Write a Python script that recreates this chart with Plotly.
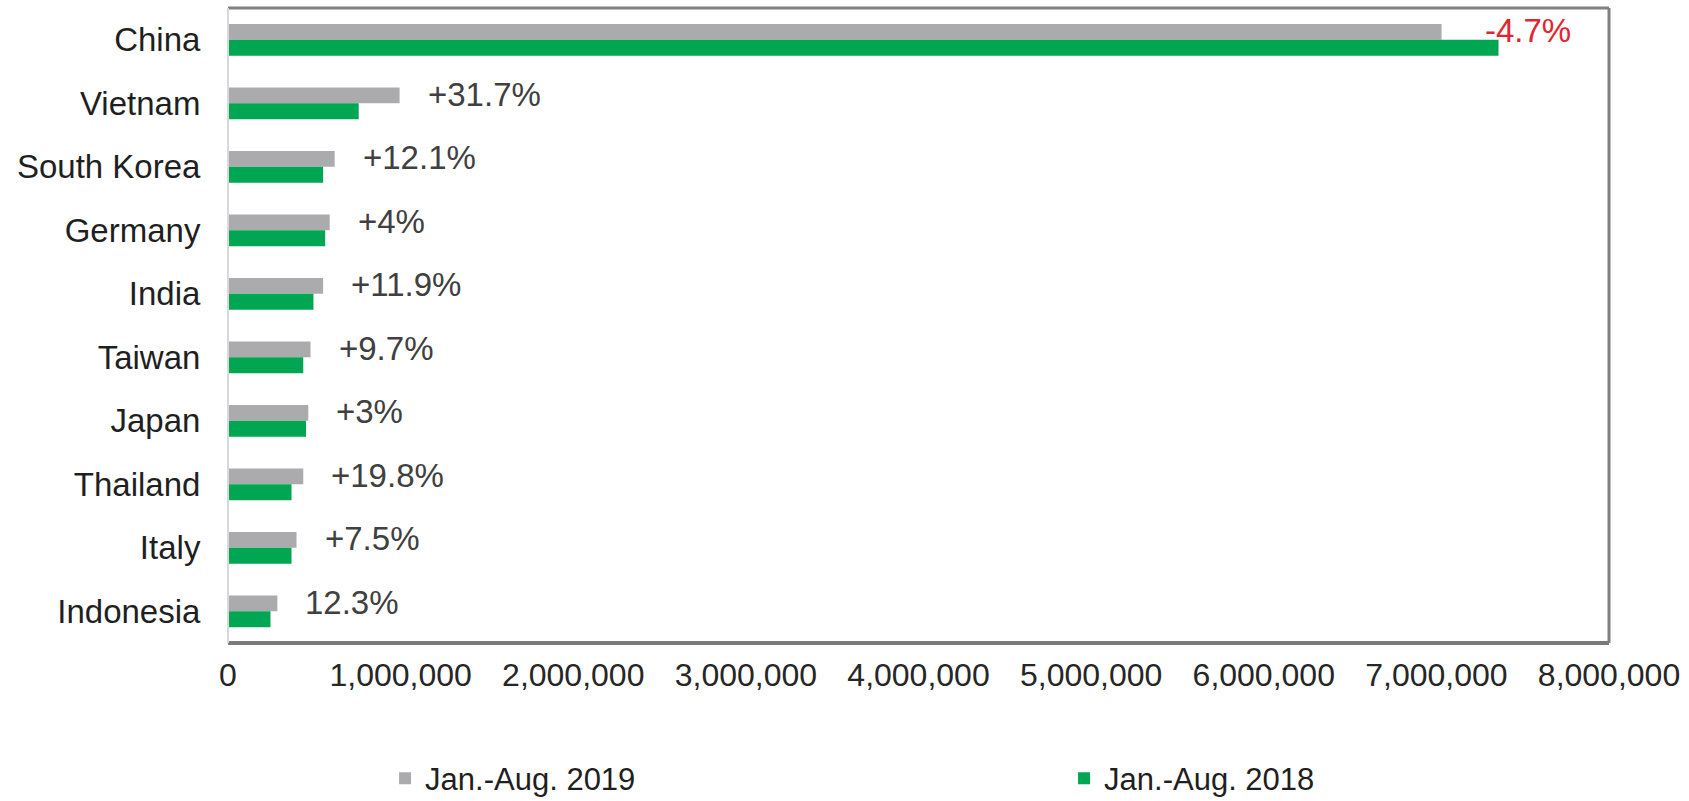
import plotly.graph_objects as go

countries = ["China", "Vietnam", "South Korea", "Germany", "India",
             "Taiwan", "Japan", "Thailand", "Italy", "Indonesia"]
jan_aug_2019 = [7030000, 994000, 618000, 589000, 551000,
                478000, 465000, 436000, 397000, 286000]
jan_aug_2018 = [7360000, 757000, 551000, 563000, 495000,
                436000, 452000, 368000, 368000, 246000]
changes = ["-4.7%", "+31.7%", "+12.1%", "+4%", "+11.9%",
           "+9.7%", "+3%", "+19.8%", "+7.5%", "12.3%"]
x_ticks = [0, 1000000, 2000000, 3000000, 4000000,
           5000000, 6000000, 7000000, 8000000]

FONT = "Liberation Sans, Arial, sans-serif"

fig = go.Figure()
fig.add_trace(go.Bar(
    y=countries, x=jan_aug_2019, orientation="h",
    name="Jan.-Aug. 2019", legend="legend",
    marker=dict(color="#ABABAD", line=dict(width=0)),
))
fig.add_trace(go.Bar(
    y=countries, x=jan_aug_2018, orientation="h",
    name="Jan.-Aug. 2018", legend="legend2",
    marker=dict(color="#00A651", line=dict(width=0)),
))

# growth labels to the right of the 2019 bars
annotations = []
for country, val, chg in zip(countries, jan_aug_2019, changes):
    red = chg.startswith("-")
    annotations.append(dict(
        x=val, y=country, xref="x", yref="y",
        text=chg, showarrow=False, xanchor="left", yanchor="middle",
        xshift=41 if red else 26, yshift=9,
        font=dict(size=33, family=FONT, color="#E32431" if red else "#404040"),
    ))

# plot-area frame: dark on top/right/bottom, light on the left
frame = [
    dict(type="line", xref="paper", yref="paper", x0=0, x1=1, y0=1, y1=1,
         line=dict(color="#808080", width=3)),
    dict(type="line", xref="paper", yref="paper", x0=1, x1=1, y0=0, y1=1,
         line=dict(color="#808080", width=3)),
    dict(type="line", xref="paper", yref="paper", x0=0, x1=1, y0=0, y1=0,
         line=dict(color="#7A7A7A", width=4)),
    dict(type="line", xref="paper", yref="paper", x0=0, x1=0, y0=0, y1=1,
         line=dict(color="#D9D9D9", width=2)),
]

legend_style = dict(
    orientation="h", xref="container", yref="container",
    xanchor="left", y=0.028, yanchor="middle",
    font=dict(size=31, color="#1F1F1F"), bgcolor="rgba(0,0,0,0)",
)

fig.update_layout(
    width=1689, height=801,
    margin=dict(l=228, r=80, t=8, b=158, autoexpand=False),
    paper_bgcolor="white", plot_bgcolor="white",
    font=dict(family=FONT, size=32, color="#1F1F1F"),
    barmode="group", bargap=0.5, bargroupgap=0,
    showlegend=True,
    legend=dict(x=0.228, **legend_style),
    legend2=dict(x=0.630, **legend_style),
    xaxis=dict(
        range=[0, 8000000], tickvals=x_ticks, tickformat=",",
        showgrid=False, zeroline=False, showline=False, automargin=False,
        ticks="outside", ticklen=4, tickcolor="rgba(0,0,0,0)",
        tickfont=dict(size=32, color="#262626"),
    ),
    yaxis=dict(
        range=[9.5, -0.5], showgrid=False, zeroline=False, showline=False,
        automargin=False,
        ticks="outside", ticklen=20, tickcolor="rgba(0,0,0,0)",
        tickfont=dict(size=33, color="#1F1F1F"),
    ),
    annotations=annotations,
    shapes=frame,
)

# drop the browser's default 8px body margin so the figure fills the window
fig.write_html(
    "out.html",
    config={"displayModeBar": False},
    post_script="document.body.style.margin = '0';",
)
